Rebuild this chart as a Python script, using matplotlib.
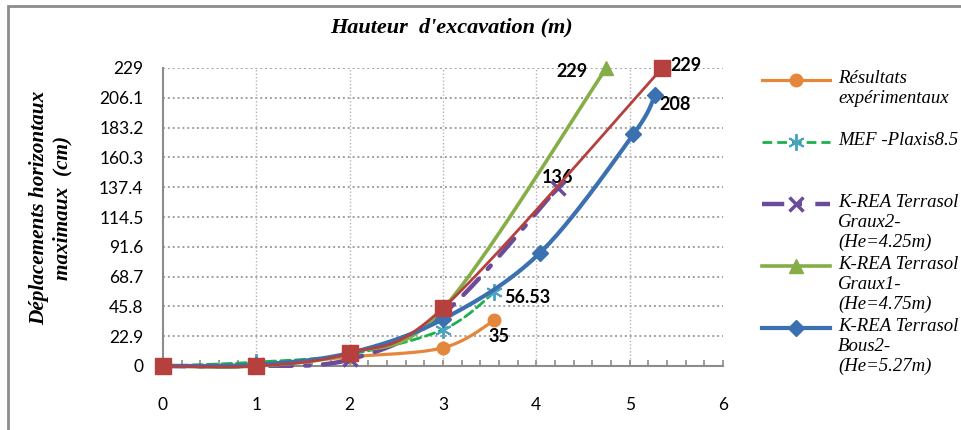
import numpy as np
import matplotlib.pyplot as plt
from matplotlib.lines import Line2D
from matplotlib.patches import Rectangle

# data
x_exp = [0, 1, 2, 3, 3.55]
y_exp = [0, 1, 7, 14, 35]
x_mef = [0, 1, 2, 3, 3.55]
y_mef = [0, 3, 9, 28, 56.53]
x_graux2 = [0, 1, 2, 3, 4.23]
y_graux2 = [0, 0, 5, 40, 137]
x_graux1 = [0, 1, 2, 3, 4.75]
y_graux1 = [0, 0, 10, 44, 229]
x_bous2 = [0, 1, 2, 3, 4.04, 5.04, 5.27]
y_bous2 = [0, 1, 10, 36, 87, 178, 208]
x_red = [0, 1, 2, 3, 5.35]
y_red = [0, 0, 10, 44.5, 229]

y_ticks = [0, 22.9, 45.8, 68.7, 91.6, 114.5, 137.4, 160.3, 183.2, 206.1, 229]
y_tick_labels = ["0", "22.9", "45.8", "68.7", "91.6", "114.5", "137.4",
                 "160.3", "183.2", "206.1", "229"]
x_ticks = [0, 1, 2, 3, 4, 5, 6]

W, H = 962, 430
XMAX, YMAX = 6, 229


def smooth(xs, ys, n=30):
    # Excel-like smoothed line (bezier, tension 1/6) computed in screen-ish units
    sx = np.asarray(xs, float) * 93.4
    sy = np.asarray(ys, float) * 1.30
    P = np.column_stack([sx, sy])
    out = []
    for i in range(len(P) - 1):
        p0 = P[i - 1] if i > 0 else P[i]
        p1, p2 = P[i], P[i + 1]
        p3 = P[i + 2] if i + 2 < len(P) else P[i + 1]
        c1 = p1 + (p2 - p0) / 6
        c2 = p2 - (p3 - p1) / 6
        t = np.linspace(0, 1, n)[:, None]
        seg = ((1 - t) ** 3) * p1 + 3 * ((1 - t) ** 2) * t * c1 + 3 * (1 - t) * t ** 2 * c2 + t ** 3 * p2
        out.append(seg)
    pts = np.vstack(out)
    return pts[:, 0] / 93.4, pts[:, 1] / 1.30


fig = plt.figure(figsize=(W / 100, H / 100), dpi=100)
ax = fig.add_axes([163 / W, 1 - 366 / H, (723 - 163) / W, (366 - 68) / H])
ax.set_xlim(0, XMAX)
ax.set_ylim(0, YMAX)

# frame of the whole chart (only top and left edges are visible)
fig.add_artist(Rectangle((8 / W, -0.1), 1.2, 1 - 6 / H + 0.1, transform=fig.transFigure,
                         fill=False, edgecolor="#8c8c8c", linewidth=2))

series = [
    (x_exp, y_exp, dict(color="#E4873C", lw=2.3, ls="-"), dict(marker="o", ms=9, mfc="#E4873C", mec="#E4873C")),
    (x_mef, y_mef, dict(color="#1BB24E", lw=2.0, ls=(0, (3.5, 1.8))), dict(marker=(6, 2, 0), ms=12, mfc="#4BA3C3", mec="#4BA3C3", mew=1.4)),
    (x_graux2, y_graux2, dict(color="#6B4C9A", lw=3.2, ls=(0, (5, 3, 1, 3))), dict(marker="x", ms=10, mfc="#6B4C9A", mec="#6B4C9A", mew=2.5)),
    (x_graux1, y_graux1, dict(color="#85AE48", lw=2.6, ls="-"), dict(marker="^", ms=10, mfc="#85AE48", mec="#85AE48")),
    (x_bous2, y_bous2, dict(color="#3C71B1", lw=3.0, ls="-"), dict(marker="D", ms=8, mfc="#3C71B1", mec="#3C71B1")),
    (x_red, y_red, dict(color="#B5403D", lw=2.0, ls="-"), dict(marker="s", ms=11, mfc="#B5403D", mec="#B5403D")),
]

for i, (xs, ys, lstyle, mstyle) in enumerate(series):
    sx, sy = smooth(xs, ys)
    ax.plot(sx, sy, zorder=3 + i, clip_on=False, solid_capstyle="round", dash_capstyle="round", **lstyle)
    ax.plot(xs, ys, ls="none", zorder=3 + i, clip_on=False, **mstyle)

# grid
for yt in y_ticks[1:]:
    ax.axhline(yt, color="#a0a0a0", lw=1.4, ls=(0, (1, 1.5)), zorder=1)
for xt in x_ticks[1:-1]:
    ax.axvline(xt, color="#b4b4b4", lw=1.0, ls=(0, (1, 1.5)), zorder=1)

for s in ["top", "right"]:
    ax.spines[s].set_visible(False)
for s in ["left", "bottom"]:
    ax.spines[s].set_color("#8c8c8c")
    ax.spines[s].set_linewidth(1.5)

ax.set_xticks(x_ticks)
ax.set_xticks(np.arange(0, 6.01, 0.2), minor=True)
ax.set_yticks(y_ticks)
ax.set_yticklabels(y_tick_labels)
ax.tick_params(axis="x", which="both", direction="in", length=4, color="#8c8c8c", width=1.2, pad=22)
ax.tick_params(axis="y", length=0, pad=14)
for lab in ax.get_xticklabels() + ax.get_yticklabels():
    lab.set_fontsize(12.5)
    lab.set_family("Lato")

# value labels
ann = dict(fontsize=13, fontweight="bold", family="Lato", textcoords="offset points", va="center")
ax.annotate("229", (x_graux1[-1], y_graux1[-1]), xytext=(-25, -2.5), ha="center", **ann)
ax.annotate("229", (x_red[-1], y_red[-1]), xytext=(17, 1.5), ha="center", **ann)
ax.annotate("208", (x_bous2[-1], y_bous2[-1]), xytext=(14.5, -6.5), ha="center", **ann)
ax.annotate("136", (x_graux2[-1], y_graux2[-1]), xytext=(0, 7), ha="center", **ann)
ax.annotate("56.53", (x_mef[-1], y_mef[-1]), xytext=(7, -4), ha="left", **ann)
ax.annotate("35", (x_exp[-1], y_exp[-1]), xytext=(3.6, -11.5), ha="center", **ann)

fig.text(451 / W, 1 - 27 / H, "Hauteur  d'excavation (m)", ha="center", va="center",
         family="Liberation Serif", fontsize=16, fontweight="bold", style="italic")
fig.text(51 / W, 1 - 208 / H, "Déplacements horizontaux\nmaximaux  (cm)", ha="center", va="center",
         rotation=90, family="Liberation Serif", fontsize=15.3, fontweight="bold", style="italic",
         multialignment="center", linespacing=1.25)

# legend drawn by hand to keep the Excel layout
legend_labels = ["Résultats\nexpérimentaux", "MEF -Plaxis8.5", "K-REA Terrasol\nGraux2-\n(He=4.25m)",
                 "K-REA Terrasol\nGraux1-\n(He=4.75m)", "K-REA Terrasol\nBous2-\n(He=5.27m)"]
legend_y = [80, 142, 204, 266, 328]
for (xs, ys, lstyle, mstyle), lab, ly in zip(series[:5], legend_labels, legend_y):
    yf = 1 - ly / H
    fig.add_artist(Line2D([762 / W, 830 / W], [yf, yf], transform=fig.transFigure, **lstyle))
    fig.add_artist(Line2D([796 / W], [yf], transform=fig.transFigure, ls="none", **mstyle))
    fig.text(838 / W, yf + 10 / H, lab, ha="left", va="top", family="Liberation Serif",
             fontsize=13.5, style="italic", linespacing=1.2)

fig.savefig("out.png", dpi=100)
